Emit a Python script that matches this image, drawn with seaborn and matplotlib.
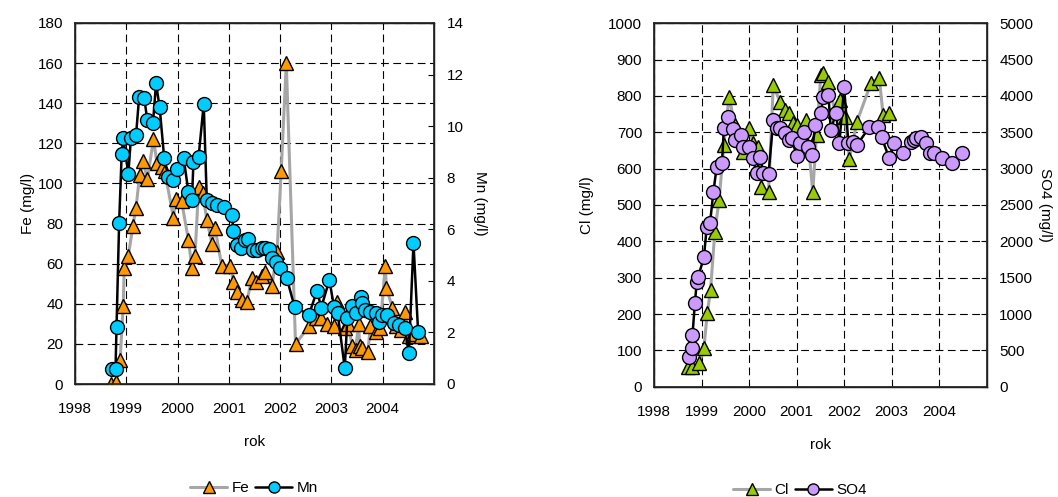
import matplotlib
matplotlib.use("Agg")
import matplotlib.pyplot as plt
from matplotlib.lines import Line2D
import seaborn as sns
import pandas as pd

# ---------------- data ----------------
fe_dates = [1998.70, 1998.80, 1998.88, 1998.94, 1998.96, 1999.04, 1999.13, 1999.19, 1999.26, 1999.33,
            1999.41, 1999.53, 1999.60, 1999.69, 1999.75, 1999.92, 1999.96, 2000.08, 2000.21, 2000.28,
            2000.34, 2000.41, 2000.49, 2000.57, 2000.67, 2000.73, 2000.86, 2001.03, 2001.09, 2001.16,
            2001.26, 2001.35, 2001.45, 2001.52, 2001.65, 2001.71, 2001.84, 2001.94, 2002.02, 2002.12,
            2002.30, 2002.57, 2002.69, 2002.79, 2002.92, 2003.05, 2003.11, 2003.27, 2003.33, 2003.40,
            2003.47, 2003.53, 2003.55, 2003.60, 2003.71, 2003.76, 2003.86, 2003.95, 2004.05, 2004.07,
            2004.19, 2004.25, 2004.35, 2004.43, 2004.51, 2004.60, 2004.74]
fe_values = [0, 1, 12, 39, 58, 64, 79, 88, 104, 111,
             102, 122, 110, 108, 106, 83, 92, 91, 72, 58,
             64, 98, 95, 82, 70, 78, 59, 59, 51, 46,
             42, 41, 53, 51, 54, 56, 49, 66, 106, 160,
             20, 29, 33, 33, 30, 29, 41, 28, 30, 19,
             17, 30, 19, 18, 16, 29, 26, 28, 59, 48,
             38, 29, 27, 36, 24, 25, 24]

mn_dates = [1998.72, 1998.79, 1998.81, 1998.86, 1998.91, 1998.94, 1999.04, 1999.09, 1999.19, 1999.25,
            1999.35, 1999.41, 1999.52, 1999.58, 1999.65, 1999.74, 1999.82, 1999.92, 1999.99, 2000.12,
            2000.21, 2000.28, 2000.31, 2000.41, 2000.51, 2000.57, 2000.67, 2000.77, 2000.90, 2001.06,
            2001.09, 2001.16, 2001.24, 2001.32, 2001.38, 2001.48, 2001.55, 2001.65, 2001.71, 2001.78,
            2001.84, 2001.91, 2002.00, 2002.13, 2002.28, 2002.56, 2002.72, 2002.80, 2002.96, 2003.05,
            2003.12, 2003.26, 2003.31, 2003.40, 2003.47, 2003.57, 2003.60, 2003.66, 2003.76, 2003.86,
            2003.92, 2003.99, 2004.09, 2004.22, 2004.31, 2004.43, 2004.51, 2004.60, 2004.69]
mn_values = [0.58, 0.58, 2.22, 6.23, 8.92, 9.55, 8.14, 9.53, 9.65, 11.12,
             11.08, 10.24, 10.11, 11.66, 10.73, 8.75, 8.04, 7.91, 8.32, 8.75,
             7.46, 7.13, 8.62, 8.81, 10.86, 7.13, 7.03, 6.94, 6.85, 6.55,
             5.94, 5.39, 5.26, 5.58, 5.61, 5.20, 5.20, 5.26, 5.26, 5.23,
             4.87, 4.74, 4.49, 4.10, 3.00, 2.68, 3.62, 2.96, 4.03, 3.00,
             2.77, 0.61, 2.55, 3.02, 2.74, 3.39, 3.13, 2.87, 2.80, 2.74,
             2.42, 2.68, 2.68, 2.35, 2.29, 2.16, 1.19, 5.46, 2.03]

cl_dates = [1998.72, 1998.80, 1998.95, 1999.05, 1999.12, 1999.19, 1999.28, 1999.37, 1999.47, 1999.58,
            1999.70, 1999.88, 2000.00, 2000.08, 2000.19, 2000.26, 2000.41, 2000.51, 2000.65, 2000.76,
            2000.84, 2000.92, 2001.00, 2001.10, 2001.20, 2001.34, 2001.42, 2001.51, 2001.56, 2001.67,
            2001.80, 2001.92, 2002.02, 2002.11, 2002.27, 2002.57, 2002.74, 2002.82, 2002.94]
cl_values = [55, 55, 64, 106, 202, 266, 427, 514, 665, 798,
             720, 647, 711, 670, 660, 550, 537, 830, 784, 761,
             752, 725, 720, 700, 735, 537, 693, 858, 862, 839,
             760, 789, 743, 627, 729, 837, 849, 748, 752]

so4_dates = [1998.74, 1998.79, 1998.81, 1998.86, 1998.90, 1998.93, 1999.05, 1999.11, 1999.18, 1999.25,
             1999.32, 1999.43, 1999.47, 1999.56, 1999.67, 1999.71, 1999.83, 1999.88, 1999.99, 2000.08,
             2000.16, 2000.23, 2000.30, 2000.41, 2000.51, 2000.58, 2000.65, 2000.76, 2000.83, 2000.90,
             2001.00, 2001.07, 2001.16, 2001.25, 2001.32, 2001.39, 2001.51, 2001.56, 2001.67, 2001.72,
             2001.83, 2001.90, 2002.00, 2002.09, 2002.18, 2002.27, 2002.53, 2002.72, 2002.79, 2002.95,
             2003.04, 2003.23, 2003.41, 2003.47, 2003.51, 2003.62, 2003.73, 2003.80, 2003.90, 2004.05,
             2004.26, 2004.49]
so4_values = [413, 528, 711, 1147, 1445, 1514, 1780, 2201, 2257, 2683,
              3027, 3074, 3555, 3715, 3541, 3394, 3463, 3302, 3294, 3142,
              2936, 3165, 2944, 2922, 3670, 3555, 3555, 3495, 3394, 3415,
              3175, 3350, 3510, 3300, 3190, 3600, 3770, 3980, 4015, 3530,
              3770, 3350, 4120, 3355, 3360, 3325, 3570, 3570, 3430, 3140,
              3355, 3210, 3370, 3400, 3415, 3440, 3350, 3210, 3220, 3140,
              3080, 3210]

year_ticks = [1998, 1999, 2000, 2001, 2002, 2003, 2004]
fe_ticks = list(range(0, 181, 20))
mn_ticks = list(range(0, 15, 2))
cl_ticks = list(range(0, 1001, 100))
so4_ticks = list(range(0, 5001, 500))

# ---------------- style ----------------
sns.set_theme(style="white")
plt.rcParams['font.family'] = ['Liberation Sans', 'DejaVu Sans']
plt.rcParams['font.size'] = 11
plt.rcParams['text.color'] = 'black'
plt.rcParams['axes.labelcolor'] = 'black'
plt.rcParams['xtick.color'] = 'black'
plt.rcParams['ytick.color'] = 'black'

FS = 11
GRAY = "#a6a6a6"
ORANGE = "#ff9900"
CYAN = "#00ccff"
GREEN = "#99cc00"
VIOLET = "#cc99ff"

fig = plt.figure(figsize=(10.58, 4.97), dpi=100)
ax1 = fig.add_axes([75/1058, 1-384/497, (434-75)/1058, (384-23)/497])
ax2 = fig.add_axes([654/1058, 1-386.7/497, (986.7-654)/1058, (386.7-23.3)/497])


def style_axis(ax, yticks, ylim):
    ax.set_xlim(1998, 2005)
    ax.set_ylim(*ylim)
    ax.set_xticks(year_ticks)
    ax.set_xticklabels([str(y) for y in year_ticks], fontsize=FS)
    ax.set_yticks(yticks)
    ax.set_yticklabels([str(t) for t in yticks], fontsize=FS)
    ax.grid(True, color="black", linewidth=0.8, linestyle=(0, (7, 4)))
    ax.set_axisbelow(True)
    for s in ax.spines.values():
        s.set_color("black")
        s.set_linewidth(1.0)
    ax.tick_params(axis="y", direction="in", length=4, width=0.8, color="black",
                   labelcolor="black", pad=8.5)
    ax.tick_params(axis="x", direction="in", length=4, width=0.8, color="black",
                   labelcolor="black", pad=13)
    ax.set_facecolor("white")


def draw(ax, x, y, line_color, marker, face, lw, ms, z):
    df = pd.DataFrame({"x": x, "y": y})
    sns.lineplot(data=df, x="x", y="y", ax=ax, estimator=None, sort=False, errorbar=None,
                 color=line_color, linewidth=lw, marker=marker, markersize=ms,
                 markerfacecolor=face, markeredgecolor="black", markeredgewidth=1.0,
                 zorder=z, legend=False)
    ax.set_xlabel("")
    ax.set_ylabel("")


def style_twin(ax, ticks, ylim):
    ax.set_ylim(*ylim)
    ax.set_yticks(ticks)
    ax.set_yticklabels([str(t) for t in ticks], fontsize=FS)
    ax.tick_params(axis="y", direction="in", length=4, width=0.8, color="black",
                   labelcolor="black", pad=9)
    ax.grid(False)


# ---- left chart ----
style_axis(ax1, fe_ticks, (0, 180))
draw(ax1, fe_dates, fe_values, GRAY, "^", ORANGE, 2.2, 10, 3)
ax1b = ax1.twinx()
draw(ax1b, mn_dates, mn_values, "black", "o", CYAN, 1.8, 10, 4)
style_twin(ax1b, mn_ticks, (0, 14))
ax1.set_ylabel("Fe (mg/l)", fontsize=FS, labelpad=2, color="black")
ax1b.set_ylabel("Mn (mg/l)", fontsize=FS, rotation=270, labelpad=17, color="black")
ax1.set_xlabel("rok", fontsize=FS, labelpad=14, color="black")

# ---- right chart ----
style_axis(ax2, cl_ticks, (0, 1000))
draw(ax2, cl_dates, cl_values, GRAY, "^", GREEN, 2.2, 10, 3)
ax2b = ax2.twinx()
draw(ax2b, so4_dates, so4_values, "black", "o", VIOLET, 1.8, 10, 4)
style_twin(ax2b, so4_ticks, (0, 5000))
ax2.set_ylabel("Cl (mg/l)", fontsize=FS, labelpad=10, color="black")
ax2b.set_ylabel("SO4 (mg/l)", fontsize=FS, rotation=270, labelpad=13.5, color="black")
ax2.set_xlabel("rok", fontsize=FS, labelpad=14, color="black")

# ---- legends ----
def handles(c1, m1, f1, c2, m2, f2):
    h1 = Line2D([], [], color=c1, lw=2.2, marker=m1, markerfacecolor=f1,
                markeredgecolor="black", markersize=8)
    h2 = Line2D([], [], color=c2, lw=1.8, marker=m2, markerfacecolor=f2,
                markeredgecolor="black", markersize=8)
    return [h1, h2]

fig.legend(handles(GRAY, "^", ORANGE, "black", "o", CYAN), ["Fe", "Mn"],
           loc="center", bbox_to_anchor=(254/1058, 1-488/497), ncol=2, frameon=False,
           fontsize=FS, handlelength=2.4, columnspacing=0.4, handletextpad=0.3,
           labelcolor="black")
fig.legend(handles(GRAY, "^", GREEN, "black", "o", VIOLET), ["Cl", "SO4"],
           loc="center", bbox_to_anchor=(800/1058, 1-490/497), ncol=2, frameon=False,
           fontsize=FS, handlelength=2.4, columnspacing=0.4, handletextpad=0.3,
           labelcolor="black")

fig.savefig("out.png", dpi=100, facecolor="white")
